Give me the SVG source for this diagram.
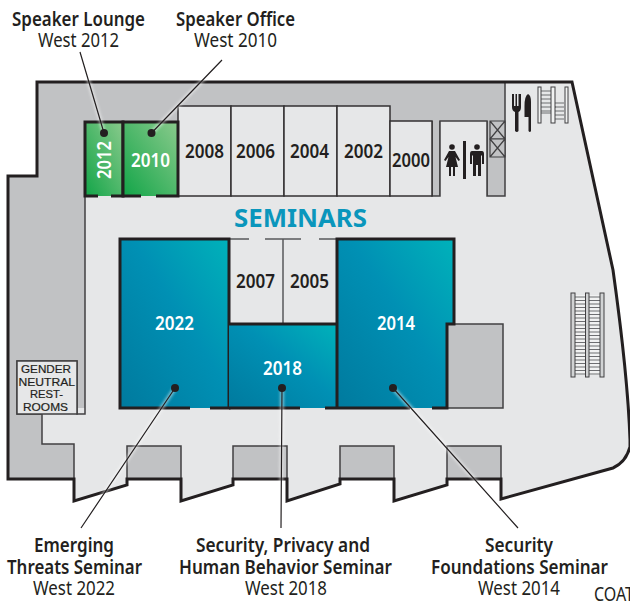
<svg xmlns="http://www.w3.org/2000/svg" width="630" height="601" viewBox="0 0 630 601">
<style>
text{font-family:"Noto Sans","Open Sans","Liberation Sans",sans-serif;fill:#231f20;text-anchor:start}
.b{font-weight:700}
.lb{font-size:19.500px;font-weight:600}
.lr{font-size:19px}
.n{font-size:20px;font-weight:600}
.w{fill:#fff}
.g{font-family:"Liberation Sans",Arial,sans-serif;font-size:11.500px;font-weight:400;stroke:#231f20;stroke-width:.2}
.room{fill:#e6e7e8;stroke:#333132;stroke-width:1.5}
.wall{fill:#c1c2c4;stroke:#414042;stroke-width:1.5}
.big{stroke:#231f20;stroke-width:3;fill:none}
.lead{stroke:#231f20;stroke-width:1.2;fill:none}
.halo{stroke:#fff;stroke-width:3.5;fill:none;opacity:.55;filter:url(#blur)}
.dot{fill:#231f20}
.rail{fill:#f1f2f2;stroke:#414042;stroke-width:1}
.step{stroke:#6d6e71;stroke-width:1;fill:none}
.ic{fill:#231f20}
</style>
<defs>
<linearGradient id="teal" x1="0" y1="1" x2="1" y2="0"><stop offset="0" stop-color="#007a9e"/><stop offset=".55" stop-color="#0090b4"/><stop offset="1" stop-color="#00b2ba"/></linearGradient>
<linearGradient id="green" x1="0" y1="1" x2="1" y2="0"><stop offset="0" stop-color="#12a548"/><stop offset="1" stop-color="#8aca8c"/></linearGradient>
<filter id="blur" x="-30%" y="-30%" width="160%" height="160%"><feGaussianBlur stdDeviation="1.6"/></filter>
</defs>

<g id="floor">
<path d="M37 82H572L613 270C620 320 628 380 630 440V447C627 458 620 465 613 468L501 499V479H447V485L394 501V479H340V484L287 501V479H233V485L181 501V479H127V485L74 501V479H8V176H37Z" fill="#c1c2c4"/>
<path d="M85 196H178V106H390V121H432V196H440V121H487V196H505V82H572L613 270C620 320 628 380 630 440V447C627 458 620 465 613 468L501 499V449H447V479H447V485L394 501V449H340V484L287 501V449H233V485L181 501V449H127V485L74 501V444H42V414H77V408H85Z" fill="#e6e7e8"/>
<path class="wall" d="M127 479V446H181V479ZM233 479V446H287V479ZM340 479V446H394V479ZM447 479V446H501V479Z"/>
<path d="M85 196V414H77V361H17V414H42V444H74V479" fill="none" stroke="#414042" stroke-width="1.5"/>
<path d="M487 121V196H505V82" fill="none" stroke="#414042" stroke-width="1.5"/>
<path d="M432 121V196H440V121" fill="#c1c2c4" stroke="#414042" stroke-width="1.5"/>
<path d="M74 479H8V176H37V82H572L613 270C620 320 628 380 630 440V447C627 458 620 465 613 468L501 499V479H447V485L394 501V479H340V484L287 501V479H233V485L181 501V479H127V485L74 501Z" class="big" stroke-linejoin="miter"/>
</g>

<g id="room-2008"><rect class="room" x="178" y="106" width="53" height="90"/><text class="n" x="185" y="158" textLength="39" lengthAdjust="spacingAndGlyphs">2008</text></g>
<g id="room-2006"><rect class="room" x="231" y="106" width="53" height="90"/><text class="n" x="236" y="158" textLength="39" lengthAdjust="spacingAndGlyphs">2006</text></g>
<g id="room-2004"><rect class="room" x="284" y="106" width="53" height="90"/><text class="n" x="290" y="158" textLength="39" lengthAdjust="spacingAndGlyphs">2004</text></g>
<g id="room-2002"><rect class="room" x="337" y="106" width="53" height="90"/><text class="n" x="344" y="158" textLength="39" lengthAdjust="spacingAndGlyphs">2002</text></g>
<g id="room-2000"><rect class="room" x="390" y="121" width="42" height="75"/><text class="n" x="392" y="167" textLength="38" lengthAdjust="spacingAndGlyphs">2000</text></g>

<g id="room-2012"><rect x="85" y="122" width="38" height="74" fill="url(#green)"/><path d="M98 196H85V122H123V196H111" fill="none" stroke="#231f20" stroke-width="3"/><text class="n w" transform="translate(111 179) rotate(-90)" textLength="38" lengthAdjust="spacingAndGlyphs">2012</text></g>
<g id="room-2010"><rect x="123" y="122" width="55" height="74" fill="url(#green)"/><path d="M141 196H123V122H178V196H156" fill="none" stroke="#231f20" stroke-width="3"/><text class="n w" x="131" y="167" textLength="39" lengthAdjust="spacingAndGlyphs">2010</text></g>

<g id="restroom">
<path d="M440 196V121H487V196" fill="#e6e7e8" stroke="#414042" stroke-width="1.5"/>
<circle class="ic" cx="452" cy="147" r="2.800"/>
<path class="ic" d="M449 151H455L460 160L458.500 161L455.500 157L458 167H455V176H453V167H451V176H449V167H446L448.500 157L445.500 161L444 160Z"/>
<rect class="ic" x="463" y="141" width="3" height="38"/>
<circle class="ic" cx="477" cy="147" r="2.800"/>
<path class="ic" d="M472 151H482Q484 151 484 154V164H482V155.500H481V176H478V165H476V176H473V155.500H472V164H470V154Q470 151 472 151Z"/>
</g>

<g id="elevators" fill="#c1c2c4" stroke="#414042" stroke-width="1.2">
<path d="M490 121H505V139H490ZM490 121L505 139M505 121L490 139"/>
<path d="M490 139H505V157H490ZM490 139L505 157M505 139L490 157"/>
</g>

<g id="cafe-icon">
<path class="ic" d="M512 94H514V106H515.500V94H517V106H518.500V94H521V107Q521 111 518.500 112V131Q517 133 515 131V112Q512 111 512 107Z"/>
<path class="ic" d="M528 94Q531 95 531 102V131Q530 133 528.500 131V117H524.500V106Q524.500 96 528 94Z"/>
</g>

<g id="stairs-top">
<path class="step" d="M541 91H551M541 95H551M541 99H551M541 103H551M541 107H551M541 111H551M538 113H551M555 103H564M555 107H564M555 111H564M555 115H564M555 119H564M553 107H556"/>
<rect class="rail" x="538" y="87" width="3" height="36"/><rect class="rail" x="551" y="87" width="4" height="36"/><rect class="rail" x="565" y="87" width="3" height="36"/>
</g>

<g id="escalator">
<rect x="575" y="295" width="25" height="80" fill="#f1f2f2"/>
<path class="step" d="M575 297H586M589 297H600M575 300.500H586M589 300.500H600M575 304H586M589 304H600M575 307.500H586M589 307.500H600M575 311H586M589 311H600M575 314.500H586M589 314.500H600M575 318H586M589 318H600M575 321.500H586M589 321.500H600M575 325H586M589 325H600M575 328.500H586M589 328.500H600M575 332H586M589 332H600M575 335.500H586M589 335.500H600M575 339H586M589 339H600M575 342.500H586M589 342.500H600M575 346H586M589 346H600M575 349.500H586M589 349.500H600M575 353H586M589 353H600M575 356.500H586M589 356.500H600M575 360H586M589 360H600M575 363.500H586M589 363.500H600M575 367H586M589 367H600M575 370.500H586M589 370.500H600M575 374H586M589 374H600"/>
<rect class="rail" x="571" y="293" width="4" height="84" style="fill:#d1d3d4"/><rect class="rail" x="585.500" y="293" width="3.500" height="84" style="fill:#d1d3d4"/><rect class="rail" x="600" y="293" width="4" height="84" style="fill:#d1d3d4"/>
</g>

<g id="room-2007"><rect x="229" y="239" width="54" height="85" fill="#e6e7e8"/><text class="n" x="236" y="288" textLength="39" lengthAdjust="spacingAndGlyphs">2007</text></g>
<g id="room-2005"><rect x="283" y="239" width="54" height="85" fill="#e6e7e8"/><text class="n" x="290" y="288" textLength="39" lengthAdjust="spacingAndGlyphs">2005</text></g>
<path id="partitions" d="M229 239H249M265 239H301M319 239H337M283 239V324" fill="none" stroke="#58595b" stroke-width="1.500"/>

<g id="service-room"><rect class="wall" x="447" y="324" width="56" height="84"/></g>

<g id="room-2022"><rect x="120" y="239" width="109" height="169" fill="url(#teal)"/><path d="M190 408H120V239H229V408H210" fill="none" stroke="#231f20" stroke-width="3"/><text class="n w" x="155" y="330" textLength="39" lengthAdjust="spacingAndGlyphs">2022</text></g>
<g id="room-2018"><rect x="229" y="324" width="108" height="84" fill="url(#teal)"/><path d="M229 324H337M229 408H300M325 408H337" fill="none" stroke="#231f20" stroke-width="3"/><text class="n w" x="263" y="375" textLength="39" lengthAdjust="spacingAndGlyphs">2018</text></g>
<g id="room-2014"><path d="M337 239H454V324H447V408H337Z" fill="url(#teal)"/><path d="M337 408V239H454V324H447V408H432M410 408H337" fill="none" stroke="#231f20" stroke-width="3"/><text class="n w" x="377" y="330" textLength="38" lengthAdjust="spacingAndGlyphs">2014</text></g>

<g id="gender-neutral">
<rect x="17" y="361" width="60" height="53" fill="#e6e7e8" stroke="#414042" stroke-width="1.500"/>
<text class="g" x="21" y="373" textLength="50" lengthAdjust="spacingAndGlyphs">GENDER</text>
<text class="g" x="18.500" y="385.500" textLength="56.500" lengthAdjust="spacingAndGlyphs">NEUTRAL</text>
<text class="g" x="30" y="398" textLength="33" lengthAdjust="spacingAndGlyphs">REST-</text>
<text class="g" x="23" y="410.500" textLength="45" lengthAdjust="spacingAndGlyphs">ROOMS</text>
</g>

<text id="seminars" class="b" x="234" y="227" font-size="25" style="fill:#0a96bc" textLength="133" lengthAdjust="spacingAndGlyphs">SEMINARS</text>

<g id="connectors">
<path class="halo" d="M104 133L80 52M151.500 133L222 60M175 388L81 528M282 388L281 528M393 388L518 528"/>
<path class="lead" d="M104 133L80 52M151.500 133L222 60M175 388L81 528M282 388L281 528M393 388L518 528"/>
<circle class="dot" cx="104" cy="133" r="4"/>
<circle class="dot" cx="151.500" cy="133" r="4"/>
<circle class="dot" cx="175" cy="388" r="4"/>
<circle class="dot" cx="282" cy="388" r="4"/>
<circle class="dot" cx="393" cy="388" r="4"/>
</g>

<g id="label-2012"><text class="lb" x="12" y="26" textLength="133" lengthAdjust="spacingAndGlyphs">Speaker Lounge</text><text class="lr" x="38" y="47" textLength="81" lengthAdjust="spacingAndGlyphs">West 2012</text></g>
<g id="label-2010"><text class="lb" x="176" y="26" textLength="119" lengthAdjust="spacingAndGlyphs">Speaker Office</text><text class="lr" x="194" y="47" textLength="83" lengthAdjust="spacingAndGlyphs">West 2010</text></g>
<g id="label-2022"><text class="lb" x="34" y="552" textLength="80" lengthAdjust="spacingAndGlyphs">Emerging</text><text class="lb" x="7" y="574" textLength="135" lengthAdjust="spacingAndGlyphs">Threats Seminar</text><text class="lr" x="33" y="595" textLength="82" lengthAdjust="spacingAndGlyphs">West 2022</text></g>
<g id="label-2018"><text class="lb" x="196" y="552" textLength="174" lengthAdjust="spacingAndGlyphs">Security, Privacy and</text><text class="lb" x="179" y="574" textLength="213" lengthAdjust="spacingAndGlyphs">Human Behavior Seminar</text><text class="lr" x="245" y="595" textLength="82" lengthAdjust="spacingAndGlyphs">West 2018</text></g>
<g id="label-2014"><text class="lb" x="485" y="552" textLength="68" lengthAdjust="spacingAndGlyphs">Security</text><text class="lb" x="431" y="574" textLength="177" lengthAdjust="spacingAndGlyphs">Foundations Seminar</text><text class="lr" x="478" y="595" textLength="82" lengthAdjust="spacingAndGlyphs">West 2014</text></g>
<text id="coat" class="lr" x="594" y="601" textLength="40" lengthAdjust="spacingAndGlyphs">COAT</text>
</svg>
